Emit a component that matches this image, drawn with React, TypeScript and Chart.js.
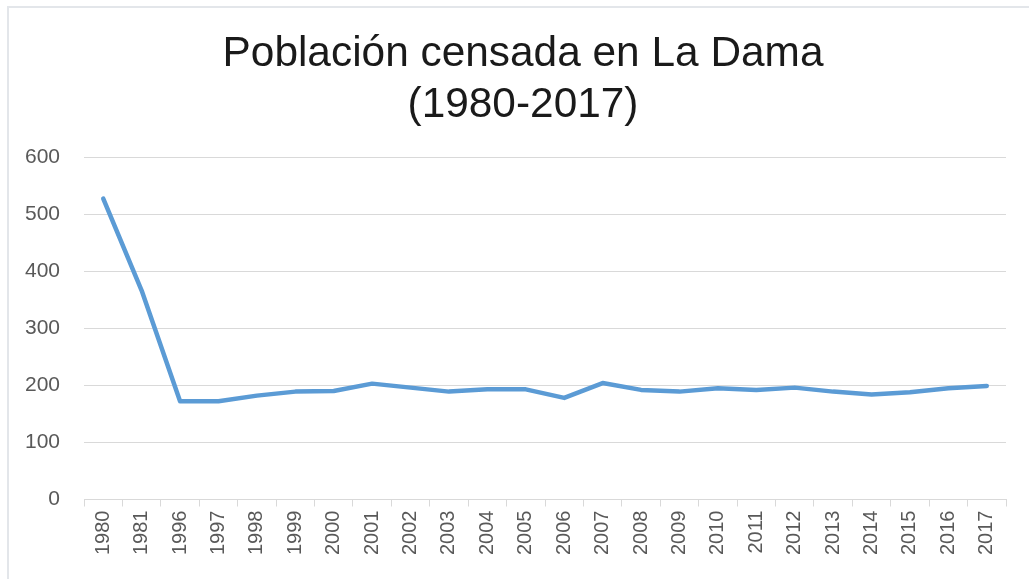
import React, { useEffect, useRef } from "react";
import { Chart, registerables } from "chart.js";

Chart.register(...registerables);

const titleLines = ["Población censada en La Dama", "(1980-2017)"];
const years = [
  "1980", "1981", "1996", "1997", "1998", "1999", "2000", "2001", "2002", "2003", "2004", "2005",
  "2006", "2007", "2008", "2009", "2010", "2011", "2012", "2013", "2014", "2015", "2016", "2017",
];
const population = [
  527, 366, 172, 172, 182, 189, 190, 203, 196, 189, 193, 193,
  178, 204, 192, 189, 195, 192, 196, 189, 184, 188, 195, 199,
];
const yMin = 0;
const yMax = 600;
const yStep = 100;

const FONT = "'Liberation Sans', Arial, sans-serif";

const titlePlugin = {
  id: "centeredTitle",
  afterDraw(chart: any) {
    const ctx = chart.ctx as CanvasRenderingContext2D;
    ctx.save();
    ctx.fillStyle = "#1a1a1a";
    ctx.font = `42.4px ${FONT}`;
    ctx.textAlign = "center";
    ctx.textBaseline = "alphabetic";
    const baselines = [66, 117];
    titleLines.forEach((line, i) => ctx.fillText(line, 523, baselines[i]));
    ctx.restore();
  },
};

export default function App() {
  const canvasRef = useRef<HTMLCanvasElement | null>(null);

  useEffect(() => {
    if (!canvasRef.current) return;
    const chart = new Chart(canvasRef.current, {
      type: "line",
      data: {
        labels: years,
        datasets: [
          {
            label: "Población",
            data: population,
            borderColor: "#5B9BD5",
            backgroundColor: "#5B9BD5",
            borderWidth: 4.5,
            pointRadius: 0,
            tension: 0,
            borderJoinStyle: "round",
            borderCapStyle: "round",
          },
        ],
      },
      plugins: [titlePlugin],
      options: {
        responsive: false,
        animation: false,
        layout: { padding: { left: 1, right: 23, top: 157, bottom: 20 } },
        plugins: {
          legend: { display: false },
          tooltip: { enabled: false },
          title: { display: false },
        },
        scales: {
          x: {
            offset: true,
            grid: {
              offset: true,
              drawOnChartArea: false,
              drawTicks: true,
              tickLength: 7,
              color: "#d9d9d9",
            },
            border: { display: true, color: "#d9d9d9" },
            ticks: {
              color: "#595959",
              font: { family: FONT, size: 20 },
              minRotation: 90,
              maxRotation: 90,
              autoSkip: false,
              padding: 4,
            },
          },
          y: {
            min: yMin,
            max: yMax,
            grid: { color: "#d9d9d9", drawTicks: false },
            border: { display: false },
            ticks: {
              stepSize: yStep,
              color: "#595959",
              font: { family: FONT, size: 21 },
              padding: 24,
            },
          },
        },
      },
    });
    return () => chart.destroy();
  }, []);

  return (
    <div style={{ position: "absolute", left: 0, top: 0, width: 1029, height: 579, background: "#fff" }}>
      <div
        style={{
          position: "absolute",
          left: 7,
          top: 6,
          right: 0,
          bottom: 0,
          borderTop: "2px solid #e3e6ea",
          borderLeft: "2px solid #e3e6ea",
        }}
      />
      <canvas ref={canvasRef} width={1029} height={579} style={{ position: "absolute", left: 0, top: 0 }} />
    </div>
  );
}
